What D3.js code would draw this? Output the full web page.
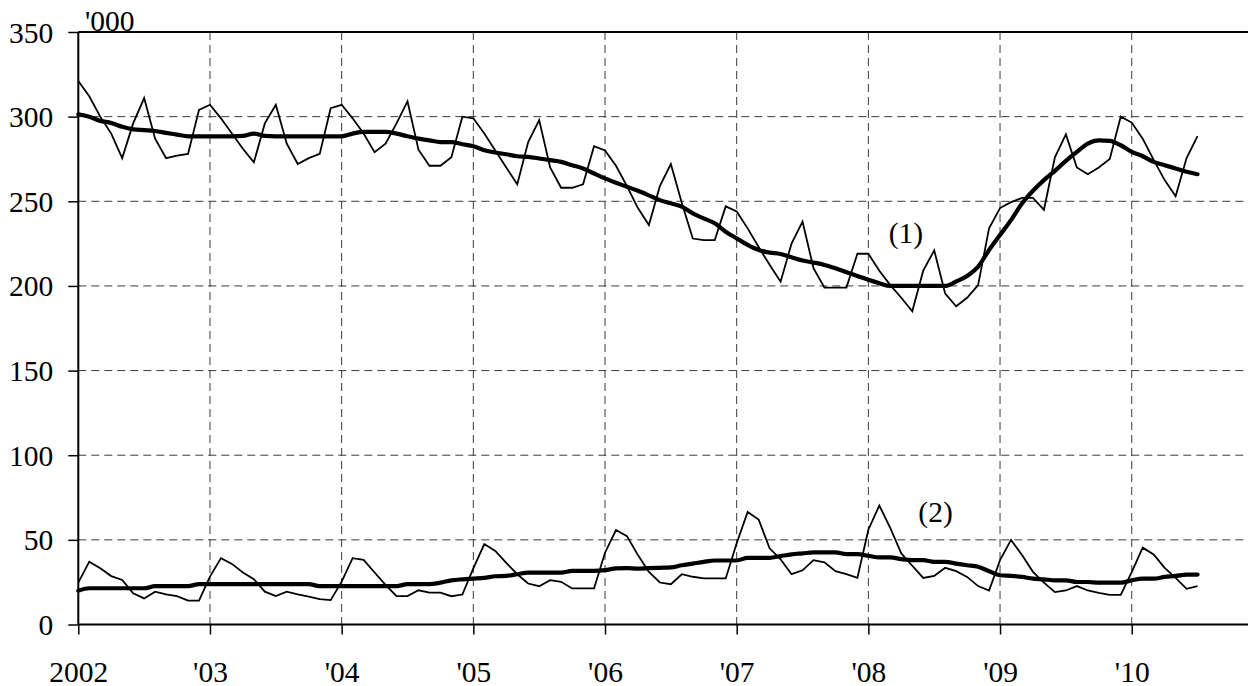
<!DOCTYPE html>
<html lang="en">
<head>
    <meta charset="UTF-8">
    <title>Monthly series, '000</title>
    <script src="https://d3js.org/d3.v7.min.js"></script>
    <style>
      body { margin: 0; background: #fff; }
      svg { display: block; }
      .grid line { stroke: #3a3a3a; stroke-width: 1; stroke-dasharray: 8,5; }
    </style>
</head>
<body>
    <div id="chart"></div>

    <script>
        // tick labels
        const yTicks = [0, 50, 100, 150, 200, 250, 300, 350];
        const xYears = [2002, 2003, 2004, 2005, 2006, 2007, 2008, 2009, 2010];
        const xLabels = ["2002", "'03", "'04", "'05", "'06", "'07", "'08", "'09", "'10"];

        // series (1): monthly Jan 2002 - Jul 2010, raw and trend
        const series1 = [
            321, 312, 300, 290, 275.5, 296, 311, 287, 275.5, 277, 278, 304,
            307, 299, 290, 281, 273, 296, 307, 284, 272, 275.5, 278, 305,
            307, 299, 290, 279, 284, 296, 309, 280.5, 271, 271, 276, 300,
            299, 290, 280, 270, 260, 285, 298, 270, 258, 258, 260, 282.5,
            280, 271, 259, 246, 236, 259, 272, 249, 228, 227, 227, 247,
            244, 234, 223, 212.5, 202.5, 225, 238, 210.5, 199, 199, 199, 219,
            219, 209, 200.5, 193, 185, 209, 221, 195.5, 188, 193, 200.5, 234,
            246, 249.5, 252, 252, 245, 276, 289.5, 270, 266, 270, 275, 300,
            296.5, 287, 274.5, 262.5, 253, 275.5, 288.5
        ];
        const trend1 = [
            301.4, 300, 297.5, 296.3, 294, 292.5, 292, 291.5, 290.4, 289.4, 288.4, 288.4,
            288.4, 288.4, 288.4, 288.6, 290, 288.6, 288.4, 288.4, 288.4, 288.4, 288.4, 288.4,
            288.4, 290, 291, 291, 291, 290, 288.4, 287, 286, 285, 285, 283.7,
            282.5, 280.2, 278.8, 277.8, 276.6, 276.2, 275.3, 274.3, 273.3, 271.3, 269.4, 266.4,
            263.5, 260.9, 258.6, 256.2, 253.5, 250.7, 248.8, 246.8, 242.8, 239.9, 237, 232,
            228.1, 224.2, 221.2, 219.7, 218.9, 216.9, 215, 213.8, 212.4, 210.4, 208.1, 205.9,
            203.6, 201.6, 200, 200, 200, 200, 200, 200, 202.6, 205.9, 211.4, 221.2,
            230.1, 238.9, 248.7, 256.2, 262.5, 268, 273.9, 279.2, 284.1, 286, 285.7, 283.1,
            279.2, 276.6, 273.3, 271.3, 269.4, 267.4, 266
        ];

        // series (2)
        const series2 = [
            24.7, 37.1, 33.2, 28.6, 26.3, 18.4, 15.4, 19.4, 17.8, 16.8, 14.1, 14.1,
            28.3, 39.2, 35.8, 30.7, 26.8, 19.4, 16.8, 19.4, 17.8, 16.4, 15, 14.4,
            25.3, 39.2, 38.2, 30.7, 23.4, 16.8, 16.8, 20.2, 18.8, 18.8, 16.7, 17.7,
            33.1, 47.5, 43.5, 36.4, 29.7, 24.2, 22.6, 26.2, 25.2, 21.3, 21.3, 21.3,
            42.4, 55.8, 52.2, 41, 31, 24.8, 23.8, 29.7, 28.2, 27.2, 27.2, 27.2,
            48, 66.5, 62, 45, 38.5, 29.7, 32, 38, 36.7, 31.5, 29.7, 27.5,
            56, 70.3, 57, 42, 34.7, 27.5, 28.7, 33.5, 31.5, 28.1, 22.7, 20.1,
            38, 50, 41, 31.1, 24.7, 19.1, 20.1, 22.7, 20.1, 18.7, 17.5, 17.5,
            31, 45.4, 41.4, 33.5, 27.5, 21.1, 22.7
        ];
        const trend2 = [
            20, 21.4, 21.4, 21.4, 21.4, 21.4, 21.4, 22.7, 22.7, 22.7, 22.7, 23.8,
            23.8, 23.8, 23.8, 23.8, 23.8, 23.8, 23.8, 23.8, 23.8, 23.8, 22.7, 22.7,
            22.7, 22.7, 22.7, 22.7, 22.7, 22.7, 23.8, 23.8, 23.8, 24.7, 26.1, 26.7,
            27.1, 27.5, 28.5, 28.7, 29.7, 30.7, 30.7, 30.7, 30.7, 31.7, 31.7, 31.7,
            32.1, 33.1, 33.3, 33, 33.3, 33.5, 33.7, 35, 36, 37, 37.8, 37.8,
            37.8, 39.4, 39.4, 39.4, 40.4, 41.4, 42, 42.6, 42.6, 42.6, 41.6, 41.6,
            40.6, 39.6, 39.6, 38.6, 38, 38, 37, 37, 36, 35, 34.1, 31.5,
            29.1, 28.7, 28.1, 27.1, 26.7, 26.1, 26.1, 25.1, 25.1, 24.7, 24.7, 24.7,
            26.1, 27.1, 27.1, 28.1, 28.7, 29.5, 29.5
        ];

        const W = 1248, H = 686;
        const plotL = 78.3, plotT = 32, plotB = 624.5, plotR = 1248;
        const serif = "'Liberation Serif', 'Times New Roman', serif";

        const svg = d3.select("#chart").append("svg")
            .attr("width", W)
            .attr("height", H);

        // decimal years on x
        const x = d3.scaleLinear()
            .domain([2002, 2010 + (plotR - 1131.7) / 131.7])
            .range([plotL, plotR]);

        const y = d3.scaleLinear()
            .domain([0, 350])
            .range([plotB, plotT]);

        const t = (d, i) => 2002 + i / 12;

        // dashed grid
        const grid = svg.append("g").attr("class", "grid");
        grid.selectAll(".h")
            .data(yTicks.filter(v => v > 0 && v < 350))
            .enter().append("line")
            .attr("x1", plotL).attr("x2", plotR)
            .attr("y1", d => y(d)).attr("y2", d => y(d));
        grid.selectAll(".v")
            .data(xYears.slice(1))
            .enter().append("line")
            .attr("x1", d => x(d)).attr("x2", d => x(d))
            .attr("y1", plotT).attr("y2", plotB);

        // axes
        const yAxis = svg.append("g")
            .attr("transform", `translate(${plotL},0)`)
            .call(d3.axisLeft(y).tickValues(yTicks).tickSize(10).tickPadding(15).tickFormat(d3.format("d")));
        const xAxis = svg.append("g")
            .attr("transform", `translate(0,${plotB})`)
            .call(d3.axisBottom(x).tickValues(xYears).tickSize(10)
                .tickFormat((d, i) => xLabels[i]));

        [yAxis, xAxis].forEach(a => {
            a.select(".domain").remove();
            a.attr("font-family", null).attr("font-size", null);
            a.selectAll("line").attr("stroke", "#000").attr("stroke-width", 1.5);
        });
        yAxis.selectAll("text").attr("dy", "0.34em");
        xAxis.selectAll("text").attr("y", 57).attr("dy", 0);

        // frame lines: left, top, bottom
        svg.append("line").attr("x1", plotL).attr("x2", plotL).attr("y1", plotT).attr("y2", plotB)
            .attr("stroke", "#000").attr("stroke-width", 2);
        svg.append("line").attr("x1", plotL).attr("x2", plotR).attr("y1", plotT).attr("y2", plotT)
            .attr("stroke", "#000").attr("stroke-width", 2);
        svg.append("line").attr("x1", plotL).attr("x2", plotR).attr("y1", plotB).attr("y2", plotB)
            .attr("stroke", "#000").attr("stroke-width", 2);

        svg.append("text")
            .attr("x", 85).attr("y", 31)
            .text("'000");

        // lines
        const thin = d3.line().x((d, i) => x(t(d, i))).y(d => y(d));
        const thick = d3.line().x((d, i) => x(t(d, i))).y(d => y(d)).curve(d3.curveMonotoneX);

        [series1, series2].forEach(s => {
            svg.append("path").datum(s)
                .attr("fill", "none").attr("stroke", "#000")
                .attr("stroke-width", 1.8).attr("stroke-linejoin", "miter")
                .attr("d", thin);
        });
        [trend1, trend2].forEach(s => {
            svg.append("path").datum(s)
                .attr("fill", "none").attr("stroke", "#000")
                .attr("stroke-width", 4.2).attr("stroke-linecap", "round")
                .attr("d", thick);
        });

        // series labels
        svg.append("text").attr("x", x(2008.285)).attr("y", y(225.6)).attr("text-anchor", "middle").text("(1)");
        svg.append("text").attr("x", x(2008.51)).attr("y", y(60.3)).attr("text-anchor", "middle").text("(2)");

        svg.selectAll("text")
            .style("font-family", serif)
            .style("font-size", "29.5px")
            .attr("fill", "#000");
    </script>
</body>
</html>
